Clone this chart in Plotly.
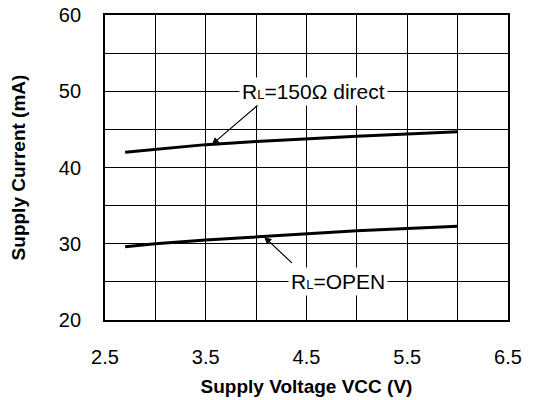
import plotly.graph_objects as go

# Data
vcc = [2.7, 3.0, 3.5, 4.0, 4.5, 5.0, 5.5, 6.0]
i_150 = [42.0, 42.4, 43.0, 43.4, 43.8, 44.1, 44.4, 44.7]
i_open = [29.6, 30.0, 30.5, 30.9, 31.3, 31.7, 32.0, 32.3]

x_ticks = [2.5, 3.5, 4.5, 5.5, 6.5]
y_ticks = [20, 30, 40, 50, 60]

FONT = "Liberation Sans, Arial, Helvetica, sans-serif"

fig = go.Figure()
fig.add_trace(go.Scatter(x=vcc, y=i_150, mode="lines",
                         line=dict(color="black", width=3), showlegend=False))
fig.add_trace(go.Scatter(x=vcc, y=i_open, mode="lines",
                         line=dict(color="black", width=3), showlegend=False))

fig.add_annotation(x=3.56, y=43.0, ax=4.08, ay=48.9, xref="x", yref="y",
                   axref="x", ayref="y", text="", showarrow=True,
                   arrowhead=2, arrowsize=1.2, arrowwidth=1.2, arrowcolor="black")
fig.add_annotation(x=4.08, y=30.9, ax=4.37, ay=27.3, xref="x", yref="y",
                   axref="x", ayref="y", text="", showarrow=True,
                   arrowhead=2, arrowsize=1.2, arrowwidth=1.2, arrowcolor="black")

fig.add_annotation(x=4.574, y=50, xref="x", yref="y", showarrow=False,
                   text="R<span style='font-size:13px'>L</span>=150\u03a9 direct",
                   font=dict(family=FONT, size=21, color="black"),
                   bgcolor="white", borderpad=2)
fig.add_annotation(x=4.81, y=25, xref="x", yref="y", showarrow=False,
                   text="R<span style='font-size:13px'>L</span>=OPEN",
                   font=dict(family=FONT, size=21, color="black"),
                   bgcolor="white", borderpad=2)

fig.update_xaxes(range=[2.5, 6.5], tickvals=x_ticks, ticktext=[str(v) for v in x_ticks],
                 showgrid=True, gridcolor="black", gridwidth=1.2,
                 showline=True, linecolor="black", linewidth=1.8, mirror=True,
                 ticks="", ticklabelstandoff=18, zeroline=False, automargin=False,
                 ticklabeloverflow="allow",
                 tickfont=dict(family=FONT, size=20, color="black"),
                 minor=dict(dtick=0.5, tick0=2.5, showgrid=True, gridcolor="black",
                            gridwidth=1.2, ticks=""),
                 title=dict(text="Supply Voltage VCC (V)", standoff=13,
                            font=dict(family=FONT, size=19, color="black",
                                      weight="bold")))
fig.update_yaxes(range=[20, 60], tickvals=y_ticks,
                 showgrid=True, gridcolor="black", gridwidth=1.2,
                 showline=True, linecolor="black", linewidth=1.8, mirror=True,
                 ticks="", ticklabelstandoff=18, zeroline=False, automargin=False,
                 ticklabeloverflow="allow",
                 tickfont=dict(family=FONT, size=20, color="black"),
                 minor=dict(dtick=5, showgrid=True, gridcolor="black",
                            gridwidth=1.2, ticks=""),
                 title=dict(text="Supply Current (mA)", standoff=31,
                            font=dict(family=FONT, size=19, color="black",
                                      weight="bold")))

fig.update_layout(width=541, height=392,
                  margin=dict(l=97, r=41, t=7, b=80),
                  plot_bgcolor="white", paper_bgcolor="white")

fig.write_html("out.html")
